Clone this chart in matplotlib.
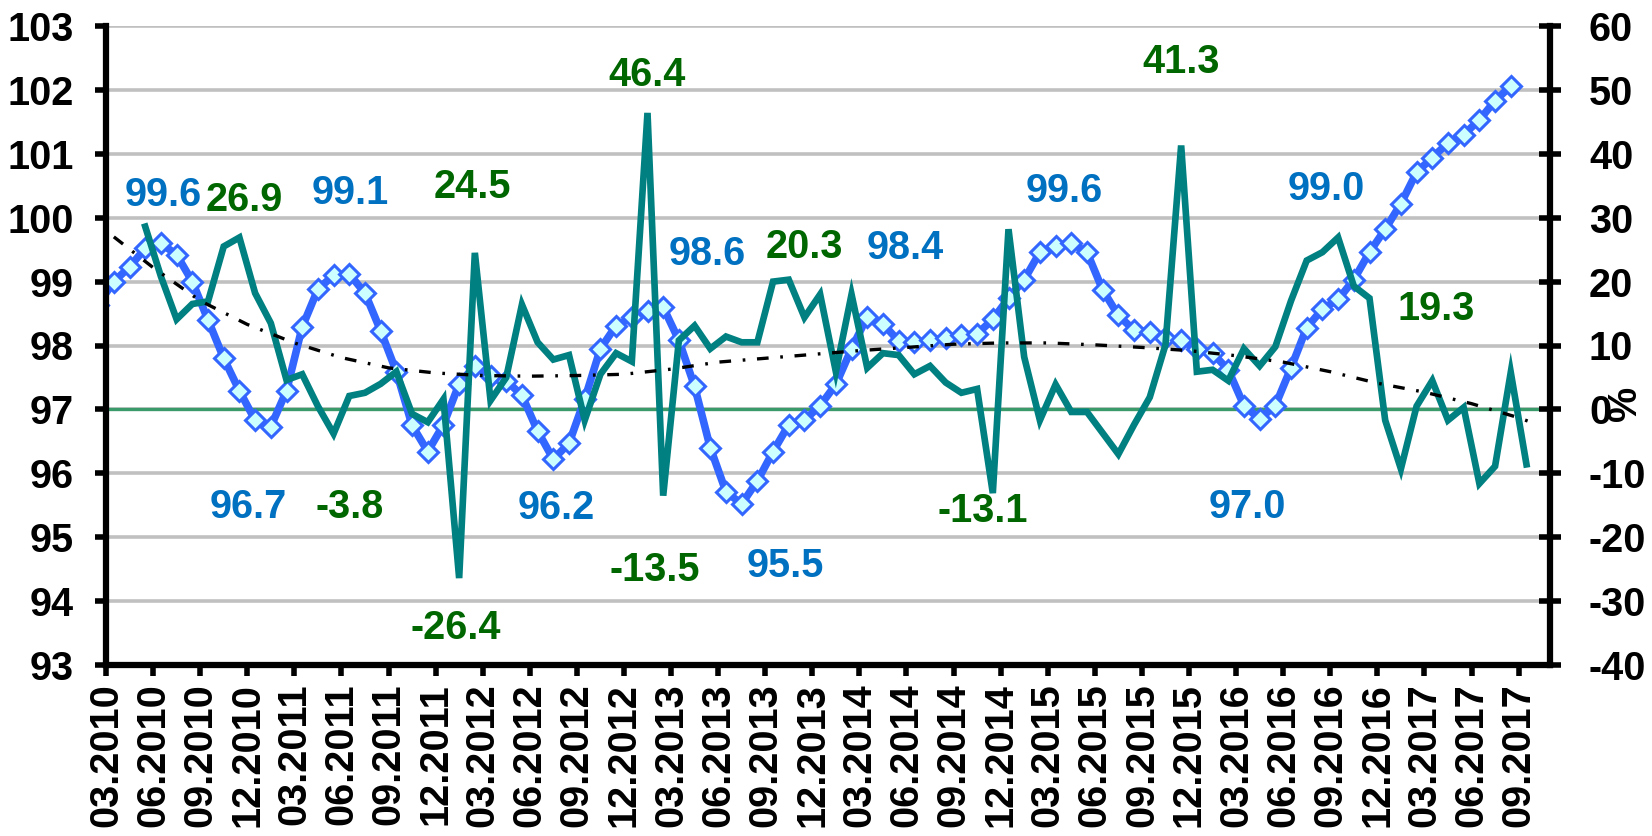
import numpy as np
import matplotlib
matplotlib.use("Agg")
import matplotlib.pyplot as plt

plt.rcParams['font.family'] = ['Liberation Sans', 'DejaVu Sans']
plt.rcParams['font.weight'] = 'bold'
plt.rcParams['axes.unicode_minus'] = False

# ---------------- data ----------------
tick_labels = ['03.2010', '06.2010', '09.2010', '12.2010',
               '03.2011', '06.2011', '09.2011', '12.2011',
               '03.2012', '06.2012', '09.2012', '12.2012',
               '03.2013', '06.2013', '09.2013', '12.2013',
               '03.2014', '06.2014', '09.2014', '12.2014',
               '03.2015', '06.2015', '09.2015', '12.2015',
               '03.2016', '06.2016', '09.2016', '12.2016',
               '03.2017', '06.2017', '09.2017']

# index (left axis), monthly, first point lies half a month before the axis start
index_values = [98.64, 99.00, 99.23, 99.52, 99.60, 99.42, 99.00, 98.40, 97.80, 97.29,
                96.83, 96.73, 97.29, 98.29, 98.88, 99.10, 99.12, 98.82, 98.23, 97.59,
                96.75, 96.34, 96.76, 97.40, 97.68, 97.52, 97.45, 97.22, 96.66, 96.22,
                96.47, 97.16, 97.95, 98.31, 98.44, 98.54, 98.60, 98.08, 97.36, 96.40,
                95.71, 95.52, 95.88, 96.34, 96.76, 96.83, 97.06, 97.39, 97.95, 98.45,
                98.34, 98.07, 98.05, 98.08, 98.11, 98.16, 98.18, 98.41, 98.74, 99.03,
                99.46, 99.56, 99.60, 99.46, 98.87, 98.47, 98.24, 98.21, 98.11, 98.08,
                97.95, 97.88, 97.62, 97.06, 96.85, 97.06, 97.65, 98.28, 98.57, 98.72,
                99.03, 99.46, 99.82, 100.22, 100.71, 100.94, 101.17, 101.30, 101.53, 101.83,
                102.06]

# growth rate, % (right axis), monthly
growth_values = [28.6, 20.8, 14.1, 16.5, 16.9, 25.5, 26.9, 18.2, 13.5, 4.6,
                 5.5, 0.5, -3.8, 2.1, 2.6, 4.0, 5.9, -0.7, -2.0, 1.6,
                 -26.4, 24.5, 1.4, 5.0, 16.4, 10.5, 7.8, 8.5, -1.7, 5.5,
                 8.8, 7.5, 46.4, -13.5, 10.8, 13.1, 9.5, 11.4, 10.5, 10.5,
                 20.0, 20.3, 14.4, 18.0, 5.9, 18.0, 6.5, 8.8, 8.5, 5.5,
                 6.8, 4.2, 2.6, 3.2, -13.1, 28.2, 8.2, -1.7, 3.9, -0.4,
                 -0.4, -3.7, -7.0, -2.4, 1.9, 10.1, 41.3, 5.9, 6.2, 4.5,
                 9.5, 6.8, 9.8, 17.0, 23.3, 24.6, 26.9, 19.3, 17.4, -1.7,
                 -9.3, 0.5, 4.5, -1.7, 0.3, -11.6, -8.9, 5.8, -8.6]

# trend of the growth rate, % (right axis), read at these months from 03.2010
trend_months = [0.5, 3, 6, 9, 12, 15, 18, 21, 24, 27, 30, 33, 36, 39, 42, 45,
                48, 51, 54, 57, 60, 63, 66, 69, 72, 75, 78, 81, 84, 87, 90, 91]
trend_values = [27.0, 22.2, 17.0, 13.3, 10.4, 8.1, 6.5, 5.7, 5.3, 5.2, 5.3, 5.5,
                6.3, 7.4, 8.0, 8.6, 9.2, 9.7, 10.2, 10.4, 10.4, 10.1, 9.7, 9.2,
                8.4, 7.4, 5.9, 4.1, 2.7, 0.9, -1.3, -2.2]

# data labels: text, month position, left-axis height, colour key
labels = [("99.6", 3.63, 100.35, 'b'), ("26.9", 8.80, 100.28, 'g'),
          ("99.1", 15.55, 100.39, 'b'), ("24.5", 23.33, 100.48, 'g'),
          ("46.4", 34.48, 102.23, 'g'), ("98.6", 38.30, 99.43, 'b'),
          ("20.3", 44.49, 99.54, 'g'), ("98.4", 50.92, 99.53, 'b'),
          ("99.6", 61.06, 100.42, 'b'), ("41.3", 68.51, 102.44, 'g'),
          ("99.0", 77.76, 100.45, 'b'), ("19.3", 84.77, 98.57, 'g'),
          ("96.7", 9.05, 95.47, 'b'), ("-3.8", 15.55, 95.47, 'g'),
          ("-26.4", 22.31, 93.58, 'g'), ("96.2", 28.68, 95.46, 'b'),
          ("-13.5", 34.99, 94.49, 'g'), ("95.5", 43.28, 94.55, 'b'),
          ("-13.1", 55.83, 95.41, 'g'), ("97.0", 72.72, 95.47, 'b')]

# ---------------- plot ----------------
W, H = 1652, 836
fig = plt.figure(figsize=(W / 100, H / 100), dpi=100)
ax = fig.add_axes([106 / W, 1 - 665 / H, (1550 - 106) / W, (665 - 26) / H])
ax2 = ax.twinx()

FS = 28.5
idx_x = np.arange(len(index_values)) - 0.5
gr_x = np.arange(len(growth_values)) + 2.5

ax.set_xlim(0, 92)
ax.set_ylim(93, 103)
ax2.set_ylim(-40, 60)

ax.set_yticks(np.arange(93, 104, 1))
ax2.set_yticks(np.arange(-40, 61, 10))
ax.set_xticks(np.arange(0, 91, 3))
ax.set_xticklabels(tick_labels, rotation=90, fontsize=FS, fontweight='bold')

ax.grid(axis='y', color='#C0C0C0', linewidth=2.6, zorder=0)
ax.set_axisbelow(True)

ax.axhline(97, color='#3A9A6A', linewidth=2.4, zorder=1)
ax.plot(idx_x, index_values, color='#3366FF', linewidth=5.5, marker='D',
        markersize=10, markerfacecolor='#CCFFFF', markeredgecolor='#3366FF',
        markeredgewidth=2.2, zorder=3, clip_on=True)

ax2.plot(gr_x, growth_values, color='#008080', linewidth=4.8, zorder=3,
         solid_joinstyle='miter')
ax2.plot(trend_months, trend_values, color='black', linewidth=2.4,
         linestyle=(0, (3.5, 3.5, 0.8, 3.5)), zorder=4)

colors = {'b': '#0070C0', 'g': '#006600'}
for txt, mx, my, ck in labels:
    ax.text(mx, my, txt, color=colors[ck], fontsize=FS, fontweight='bold',
            ha='center', va='center', zorder=6)

for s in ['top']:
    ax.spines[s].set_visible(False)
    ax2.spines[s].set_visible(False)
ax2.spines['left'].set_visible(False)
ax2.spines['bottom'].set_visible(False)
for s in ['left', 'bottom']:
    ax.spines[s].set_linewidth(4.5)
    ax.spines[s].set_zorder(10)
ax.spines['right'].set_visible(False)
ax2.spines['right'].set_linewidth(4.5)

ax.tick_params(axis='y', direction='out', length=8, width=4, pad=15,
               labelsize=FS)
ax.tick_params(axis='x', direction='out', length=8, width=4, pad=5,
               labelsize=FS)
ax2.tick_params(axis='y', direction='inout', length=16, width=4, pad=20,
                labelsize=FS)
for lab in ax.get_yticklabels() + ax2.get_yticklabels():
    lab.set_fontweight('bold')

fig.text(1625 / W, 1 - 403 / H, '%', rotation=90, fontsize=FS,
         fontweight='bold', ha='center', va='center')

fig.savefig('out.png', dpi=100)
